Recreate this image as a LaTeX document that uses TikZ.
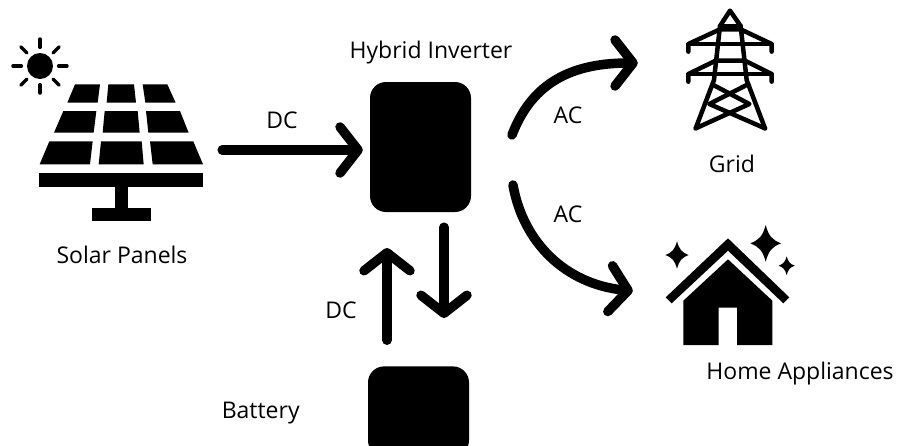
\documentclass[tikz,border=0pt]{standalone}
\usepackage{fontspec}
\usepackage{tikz}
\usetikzlibrary{positioning,arrows.meta}
\setmainfont{Open Sans}

% four pointed star: centre x, centre y, half width, half height
\newcommand{\sparkle}[4]{
  \fill ({#1},{#2-#4}) .. controls ({#1+0.2*#3},{#2-0.4*#4}) and ({#1+0.4*#3},{#2-0.2*#4}) .. ({#1+#3},{#2})
    .. controls ({#1+0.4*#3},{#2+0.2*#4}) and ({#1+0.2*#3},{#2+0.4*#4}) .. ({#1},{#2+#4})
    .. controls ({#1-0.2*#3},{#2+0.4*#4}) and ({#1-0.4*#3},{#2+0.2*#4}) .. ({#1-#3},{#2})
    .. controls ({#1-0.4*#3},{#2-0.2*#4}) and ({#1-0.2*#3},{#2-0.4*#4}) .. cycle;
}

\begin{document}
\begin{tikzpicture}[
  x=1pt, y=-1pt,
  node distance=12pt and 12pt,
  unit/.style={fill=black, rounded corners=16pt, minimum width=101pt, inner sep=0pt},
  icon/.style={inner sep=0pt},
  caption/.style={font=\fontsize{23}{27}\selectfont, inner sep=0pt},
  flow/.style={line width=9.5pt, line cap=round, -{Straight Barb[length=18pt,width=46pt,line cap=round,line join=round]}},
  tower/.style={line width=4.5pt, line cap=round, line join=round}
]
\useasboundingbox (0,0) rectangle (897,445);

\node[unit, minimum height=130pt] (inverter) at (420.5,147) {};
\node[unit, minimum height=90pt, below=154pt of inverter, xshift=-2pt] (battery) {};

\node[icon, minimum width=166pt, minimum height=140pt] (solar) at (120,150) {};
\node[icon, minimum width=92pt, minimum height=124pt] (grid) at (684,63) {};
\node[icon, minimum width=210pt, minimum height=124pt] (home) at (738,291) {};

\coordinate (gridout) at (512,135);
\coordinate (homeout) at (513,185);
\coordinate (chargeend) at (444,318);
\coordinate (dischargeend) at (387,248);

\node[caption, above=18pt of inverter, xshift=10.5pt] (invertertext) {Hybrid Inverter};
\node[caption, left=68pt of battery.west, yshift=-2pt] (batterytext) {Battery};
\node[caption] (solartext) at (122,255) {Solar Panels};
\node[caption] (gridtext) at (732,164) {Grid};
\node[caption] (hometext) at (800,374) {Home Appliances};
\node[caption] (dctop) at (282,120) {DC};
\node[caption] (dcbottom) at (341,310) {DC};
\node[caption] (acgrid) at (568,115) {AC};
\node[caption] (achome) at (568,214) {AC};

% panel, sun
\begin{scope}[shift={(0,20)}, scale=1/3]
  \fill (120,138) circle (39);
  \foreach \a in {0,45,...,315}
    \draw[line width=3.5pt, line cap=round] (120,138) ++(\a:56) -- ++(\a:25);
  \fill (225,193) -- (300,193) -- (293,248) -- (202,248) -- cycle;
  \fill (325,193) -- (402,193) -- (408,248) -- (320,248) -- cycle;
  \fill (428,193) -- (502,193) -- (527,248) -- (436,248) -- cycle;
  \fill (190,273) -- (289,273) -- (281,338) -- (162,338) -- cycle;
  \fill (314,273) -- (413,273) -- (419,338) -- (308,338) -- cycle;
  \fill (438,273) -- (540,273) -- (566,338) -- (445,338) -- cycle;
  \fill (148,364) -- (278,364) -- (270,433) -- (119,433) -- cycle;
  \fill (303,364) -- (425,364) -- (431,433) -- (296,433) -- cycle;
  \fill (450,364) -- (580,364) -- (609,433) -- (458,433) -- cycle;
  \fill (117,460) rectangle (610,501);
  \fill (345,501) rectangle (383,565);
  \fill (275,565) rectangle (453,604);
\end{scope}

% pylon
\begin{scope}[shift={(650,0)}, scale=1/3]
  \draw[tower] (137,385) -- (192,240) -- (210,78) -- (240,32) -- (272,78) -- (290,240) -- (345,385);
  \draw[tower] (210,78) -- (272,78);
  \draw[tower] (115,155) -- (115,132) -- (210,88) -- (272,88) -- (365,132) -- (365,155);
  \draw[tower] (115,132) -- (365,132);
  \draw[tower] (115,245) -- (115,222) -- (197,182) -- (285,182) -- (365,222) -- (365,245);
  \draw[tower] (115,222) -- (365,222);
  \draw[tower] (190,255) -- (298,312) -- (137,385);
  \draw[tower] (290,255) -- (178,312) -- (345,385);
\end{scope}

% house
\begin{scope}[shift={(650,210)}, scale=1/3]
  \fill (234,85) -- (418,262) -- (400,280) -- (234,122) -- (65,280) -- (47,262) -- cycle;
  \fill (234,148) -- (367,272) -- (367,405) -- (261,405) -- (261,293) -- (206,293) -- (206,405) -- (100,405) -- (100,272) -- cycle;
  \sparkle{81}{135}{35}{41}
  \sparkle{347}{100}{46}{55}
  \sparkle{410}{167}{24}{28}
\end{scope}

\draw[flow, shorten <=19pt, shorten >=7pt] (solar.east) -- (solar.east -| inverter.west);
\draw[flow, shorten <=15pt] (inverter.south -| chargeend) -- (chargeend);
\draw[flow, shorten <=26pt] (battery.north -| dischargeend) -- (dischargeend);
\draw[flow] (gridout) .. controls (530,88) and (565,63) .. (grid.west);
\draw[flow] (homeout) .. controls (523,242) and (565,284) .. (home.west);
\end{tikzpicture}
\end{document}
